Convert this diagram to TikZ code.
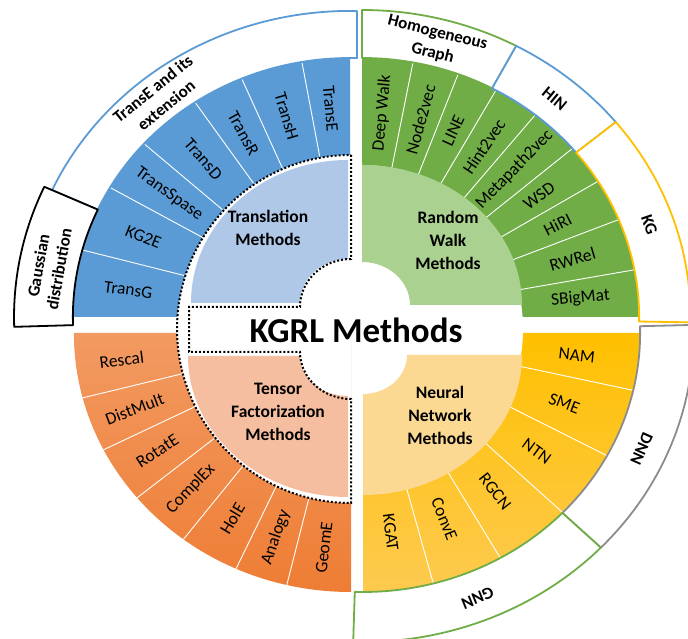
\documentclass[tikz,border=0pt]{standalone}
\usepackage{fontspec}
\setmainfont{Carlito}
\usetikzlibrary{positioning}

\definecolor{tblue}{HTML}{5B9BD5}
\definecolor{tbluelight}{HTML}{AFC8E8}
\definecolor{rwgreen}{HTML}{70AD47}
\definecolor{rwgreenlight}{HTML}{AAD190}
\definecolor{tforangetop}{HTML}{F29A62}
\definecolor{tforangebot}{HTML}{EE7D34}
\definecolor{tforangelight}{HTML}{F6BEA0}
\definecolor{nnyellowtop}{HTML}{FFC000}
\definecolor{nnyellowbot}{HTML}{FDCA50}
\definecolor{nnyellowlight}{HTML}{FCD993}
\definecolor{dnngray}{HTML}{8C8C8C}

\tikzset{
  seg/.style={font=\fontsize{17.5}{20}\selectfont, inner sep=0pt},
  bandtext/.style={font=\fontsize{17}{21}\selectfont\bfseries, align=center, inner sep=0pt},
  coretext/.style={font=\fontsize{17.5}{23}\selectfont\bfseries, align=center, inner sep=0pt},
  divider/.style={draw=white, line width=0.9pt},
  band/.style={draw=#1, fill=white, line width=1.8pt, line join=round},
  ovalize/.style={xscale=1.07}
}

% white ring piece: colour, start angle, end angle, outer radius
\newcommand{\ringband}[4]{%
  \draw[band=#1] (#2:259) -- (#2:#4) arc[start angle=#2, end angle=#3, radius=#4]
    -- (#3:259) arc[start angle=#3, end angle=#2, radius=259] -- cycle;}

\begin{document}
\begin{tikzpicture}[x=1pt, y=1pt]
\useasboundingbox (0,0) rectangle (688,639);

\coordinate (qtm) at (350,322);
\coordinate (qrw) at (362,322);
\coordinate (qtf) at (351,306);
\coordinate (qnn) at (363,306);

% outer quadrants
\begin{scope}[shift={(qtm)}, ovalize]
  \fill[tblue] (0,0) -- (90:259) arc[start angle=90, end angle=180, radius=259] -- cycle;
  \foreach \a in {100,113,124,138,150,165}
    \draw[divider] (\a:140) -- (\a:259);
\end{scope}
\begin{scope}[shift={(qrw)}, ovalize]
  \fill[rwgreen] (0,0) -- (90:259) arc[start angle=90, end angle=0, radius=259] -- cycle;
  \foreach \a in {79.4,69.7,61.1,51.3,40.6,31.6,22.1,10.5}
    \draw[divider] (\a:140) -- (\a:259);
\end{scope}
\begin{scope}[shift={(qtf)}, ovalize]
  \shade[top color=tforangetop, bottom color=tforangebot] (0,0) -- (180:259) arc[start angle=180, end angle=270, radius=259] -- cycle;
  \foreach \a in {194.5,206.8,219.5,232.8,245.5,256.6}
    \draw[divider] (\a:140) -- (\a:259);
\end{scope}
\begin{scope}[shift={(qnn)}, ovalize]
  \shade[top color=nnyellowtop, bottom color=nnyellowbot] (0,0) -- (0:259) arc[start angle=0, end angle=-90, radius=259] -- cycle;
  \foreach \a in {-12.8,-28.3,-43.9,-60.3,-75.3}
    \draw[divider] (\a:140) -- (\a:259);
\end{scope}

% hub
\fill[white] (351,484) arc[start angle=90, end angle=270, radius=174] -- cycle;
\fill[white] (362,474) arc[start angle=90, end angle=-90, x radius=161, y radius=164] -- cycle;

% inner method regions
\fill[tbluelight] (348,380) -- (348,479) arc[start angle=90, end angle=180, x radius=157, y radius=143]
  -- (300,336) arc[start angle=180, end angle=90, x radius=48, y radius=44] -- cycle;
\fill[rwgreenlight] (362,377) -- (362,474) arc[start angle=90, end angle=0, x radius=160, y radius=140]
  -- (410,334) arc[start angle=0, end angle=90, x radius=48, y radius=43] -- cycle;
\fill[tforangelight] (348,243) -- (348,142) arc[start angle=270, end angle=180, x radius=160, y radius=141]
  -- (300,283) arc[start angle=180, end angle=270, x radius=48, y radius=40] -- cycle;
\fill[nnyellowlight] (363,245) -- (363,144) arc[start angle=270, end angle=360, x radius=159, y radius=140]
  -- (407,284) arc[start angle=0, end angle=-90, x radius=44, y radius=39] -- cycle;

\draw[line width=2pt, dotted] (351,484) -- (351,380) arc[start angle=90, end angle=180, x radius=51, y radius=48]
  -- (189,332) -- (189,287) -- (300,287) arc[start angle=180, end angle=270, x radius=51, y radius=47]
  -- (351,136) arc[start angle=270, end angle=90, radius=174] -- cycle;

\node[font=\fontsize{35}{40}\selectfont\bfseries] (kgrl) at (356,309) {KGRL Methods};
\node[coretext] (tmcore) at (268,411) {Translation\\Methods};
\node[coretext] (rwcore) at (448,399) {Random\\Walk\\Methods};
\node[coretext] (tfcore) at (278,227) {Tensor\\Factorization\\Methods};
\node[coretext] (nncore) at (440,224) {Neural\\Network\\Methods};

% rings and labels
\begin{scope}[shift={(qtm)}, ovalize]
  \draw[band=tblue] (6.5,259) -- (6.5,306) arc[start angle=88.8, end angle=155.5, radius=306]
    -- (155.5:259) arc[start angle=155.5, end angle=88.56, radius=259] -- cycle;
  \ringband{black}{155.5}{181.8}{314}
  \node[bandtext, rotate=39] (tmband) at (129:283) {TransE and its\\extension};
  \node[bandtext, rotate=80] (gaussband) at (170:286) {Gaussian\\distribution};
  \foreach \a/\t [count=\i] in {95/TransE, 106.5/TransH, 118.5/TransR, 131/TransD, 144/TransSpase, 157.5/KG2E, 172.5/TransG}
    \node[seg, rotate=\a+180] (tm\i) at (\a:209) {\t};
\end{scope}
\begin{scope}[shift={(qrw)}, ovalize]
  \ringband{rwgreen}{90}{62}{307}
  \ringband{tblue}{62}{39.4}{307}
  \ringband{nnyellowtop}{39.4}{-1}{307}
  \node[bandtext, rotate=-14] (hgband) at (76:282) {Homogeneous\\Graph};
  \node[bandtext, rotate=-39.5] (hinband) at (50.5:283) {HIN};
  \node[bandtext, rotate=-71] (kgband) at (19:284) {KG};
  \foreach \a/\t [count=\i] in {84.7/Deep Walk, 74.5/Node2vec, 65.4/LINE, 56.2/Hint2vec, 46/Metapath2vec, 36.1/WSD, 26.9/HiRI, 16.3/RWRel, 5.3/SBigMat}
    \node[seg, rotate=\a] (rw\i) at (\a:205) {\t};
\end{scope}
\begin{scope}[shift={(qtf)}, ovalize]
  \foreach \a/\t [count=\i] in {187.2/Rescal, 200.6/DistMult, 213.1/RotatE, 226.1/ComplEx, 239.1/HolE, 251/Analogy, 263.3/GeomE}
    \node[seg, rotate=\a-180] (tf\i) at (\a:216) {\t};
\end{scope}
\begin{scope}[shift={(qnn)}, ovalize]
  \ringband{dnngray}{1.5}{-44}{309}
  \ringband{rwgreen}{-44}{-91.7}{309}
  \node[bandtext, rotate=-114] (dnnband) at (-24:285) {DNN};
  \node[bandtext, rotate=-158] (gnnband) at (-68:286) {GNN};
  \foreach \a/\t [count=\i] in {-6.4/NAM, -20.5/SME, -36.1/NTN, -52.1/RGCN, -67.8/ConvE, -82.6/KGAT}
    \node[seg, rotate=\a] (nn\i) at (\a:201) {\t};
\end{scope}

\end{tikzpicture}
\end{document}
